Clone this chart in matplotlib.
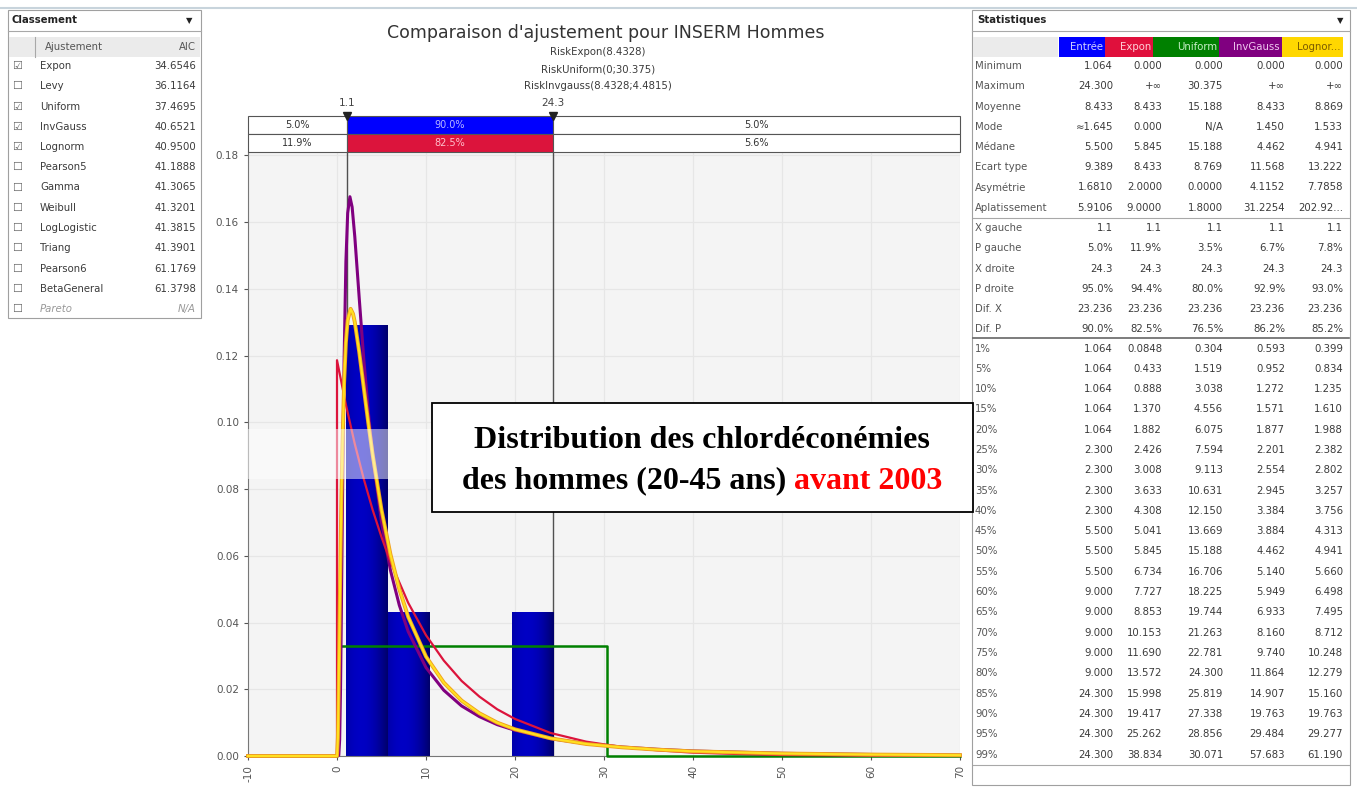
import matplotlib
matplotlib.use("Agg")
import matplotlib.pyplot as plt
import numpy as np
from matplotlib.patches import Rectangle
from matplotlib.colors import LinearSegmentedColormap

W, H = 1357, 787

# ---- left panel : classement ----
fit_names = ["Expon", "Levy", "Uniform", "InvGauss", "Lognorm", "Pearson5", "Gamma",
             "Weibull", "LogLogistic", "Triang", "Pearson6", "BetaGeneral", "Pareto"]
fit_aic = ["34.6546", "36.1164", "37.4695", "40.6521", "40.9500", "41.1888", "41.3065",
           "41.3201", "41.3815", "41.3901", "61.1769", "61.3798", "N/A"]
fit_checked = [True, False, True, True, True, False, False,
               False, False, False, False, False, False]

# ---- histogram of the input data (density) ----
hist_edges = [1.064, 5.711, 10.358, 15.006, 19.653, 24.300]
hist_density = [0.129, 0.043, 0.0, 0.0, 0.043]

# ---- fitted curves, values ----
expon_x = [-10, 0, 0, 1, 2, 3, 4, 5, 6, 8, 10, 12, 14, 16, 18, 20, 24, 28, 32, 36, 40, 45, 50, 60, 70]
expon_y = [0, 0, 0.1186, 0.1053, 0.0935, 0.0831, 0.0738, 0.0656, 0.0582, 0.0459, 0.0362, 0.0286,
           0.0225, 0.0178, 0.0140, 0.0111, 0.0069, 0.0043, 0.0027, 0.0017, 0.0010, 0.0006, 0.0003,
           0.0001, 0.0]

uniform_x = [-10, 0, 0, 30.375, 30.375, 70]
uniform_y = [0, 0, 0.0329, 0.0329, 0, 0]

invgauss_x = [-10, 0, 0.2, 0.3, 0.4, 0.5, 0.6, 0.8, 1.0, 1.2, 1.45, 1.7, 2.0, 2.5, 3, 3.5, 4, 5, 6,
              7, 8, 10, 12, 14, 16, 18, 20, 24, 28, 32, 36, 40, 50, 60, 70]
invgauss_y = [0, 0, 0.0002, 0.0049, 0.0207, 0.0453, 0.0725, 0.1190, 0.1481, 0.1627, 0.1676,
              0.1645, 0.1556, 0.1371, 0.1192, 0.1036, 0.0904, 0.0701, 0.0557, 0.0452, 0.0373,
              0.0265, 0.0197, 0.0150, 0.0118, 0.0094, 0.0077, 0.0052, 0.0037, 0.0027, 0.0020,
              0.0015, 0.0008, 0.00045, 0.00026]

lognorm_x = [-10, 0, 0.1, 0.2, 0.3, 0.4, 0.5, 0.6, 0.8, 1.0, 1.2, 1.53, 1.8, 2.0, 2.5, 3, 3.5, 4,
             5, 6, 7, 8, 10, 12, 14, 16, 18, 20, 24, 28, 32, 36, 40, 50, 60, 70]
lognorm_y = [0, 0, 0.0055, 0.0228, 0.0430, 0.0620, 0.0784, 0.0920, 0.1118, 0.1239, 0.1306,
             0.1340, 0.1325, 0.1300, 0.1210, 0.1105, 0.1001, 0.0904, 0.0738, 0.0605, 0.0500,
             0.0417, 0.0298, 0.0220, 0.0166, 0.0128, 0.0100, 0.0080, 0.0053, 0.0036, 0.0026,
             0.0019, 0.0014, 0.00075, 0.00043, 0.00026]

# ---- delimiters ----
x_left, x_right = 1.1, 24.3
band_top = ["5.0%", "90.0%", "5.0%"]
band_bottom = ["11.9%", "82.5%", "5.6%"]

# ---- right panel : statistiques ----
stat_cols = ["Entrée", "Expon", "Uniform", "InvGauss", "Lognor..."]
stat_rows = ["Minimum", "Maximum", "Moyenne", "Mode", "Médane", "Ecart type", "Asymétrie",
             "Aplatissement", "X gauche", "P gauche", "X droite", "P droite", "Dif. X", "Dif. P"]
pct_rows = ["1%", "5%", "10%", "15%", "20%", "25%", "30%", "35%", "40%", "45%", "50%", "55%",
            "60%", "65%", "70%", "75%", "80%", "85%", "90%", "95%", "99%"]
entree_vals = ["1.064", "24.300", "8.433", "≈1.645", "5.500", "9.389", "1.6810", "5.9106", "1.1",
               "5.0%", "24.3", "95.0%", "23.236", "90.0%",
               "1.064", "1.064", "1.064", "1.064", "1.064", "2.300", "2.300", "2.300", "2.300",
               "5.500", "5.500", "5.500", "9.000", "9.000", "9.000", "9.000", "9.000", "24.300",
               "24.300", "24.300", "24.300"]
expon_vals = ["0.000", "+∞", "8.433", "0.000", "5.845", "8.433", "2.0000", "9.0000", "1.1",
              "11.9%", "24.3", "94.4%", "23.236", "82.5%",
              "0.0848", "0.433", "0.888", "1.370", "1.882", "2.426", "3.008", "3.633", "4.308",
              "5.041", "5.845", "6.734", "7.727", "8.853", "10.153", "11.690", "13.572", "15.998",
              "19.417", "25.262", "38.834"]
uniform_vals = ["0.000", "30.375", "15.188", "N/A", "15.188", "8.769", "0.0000", "1.8000", "1.1",
                "3.5%", "24.3", "80.0%", "23.236", "76.5%",
                "0.304", "1.519", "3.038", "4.556", "6.075", "7.594", "9.113", "10.631", "12.150",
                "13.669", "15.188", "16.706", "18.225", "19.744", "21.263", "22.781", "24.300",
                "25.819", "27.338", "28.856", "30.071"]
invgauss_vals = ["0.000", "+∞", "8.433", "1.450", "4.462", "11.568", "4.1152", "31.2254", "1.1",
                 "6.7%", "24.3", "92.9%", "23.236", "86.2%",
                 "0.593", "0.952", "1.272", "1.571", "1.877", "2.201", "2.554", "2.945", "3.384",
                 "3.884", "4.462", "5.140", "5.949", "6.933", "8.160", "9.740", "11.864", "14.907",
                 "19.763", "29.484", "57.683"]
lognorm_vals = ["0.000", "+∞", "8.869", "1.533", "4.941", "13.222", "7.7858", "202.92...", "1.1",
                "7.8%", "24.3", "93.0%", "23.236", "85.2%",
                "0.399", "0.834", "1.235", "1.610", "1.988", "2.382", "2.802", "3.257", "3.756",
                "4.313", "4.941", "5.660", "6.498", "7.495", "8.712", "10.248", "12.279", "15.160",
                "19.763", "29.277", "61.190"]

col_face = ["#0000FF", "#E0103C", "#008000", "#800080", "#FFD700"]
col_text = ["#D0D0FF", "#FFD0D8", "#C8F0C8", "#F0C8F0", "#7A5A00"]

fig = plt.figure(figsize=(W / 100, H / 100), dpi=100)
fig.patch.set_facecolor("white")


def fx(x):
    return x / W


def fy(y):
    return 1 - y / H


def ftext(x, y, s, **kw):
    kw.setdefault("fontsize", 7.3)
    kw.setdefault("color", "#3a3a3a")
    kw.setdefault("va", "center")
    return fig.text(fx(x), fy(y), s, **kw)


def frect(x0, y0, x1, y1, **kw):
    fig.add_artist(Rectangle((fx(x0), fy(y1)), fx(x1) - fx(x0), fy(y0) - fy(y1),
                             transform=fig.transFigure, **kw))


def fline(x0, y0, x1, y1, **kw):
    kw.setdefault("color", "#a8a8a8")
    kw.setdefault("lw", 0.8)
    fig.add_artist(plt.Line2D([fx(x0), fx(x1)], [fy(y0), fy(y1)], transform=fig.transFigure, **kw))


fline(0, 8, W, 8, color="#c8d4dc", lw=1.5)

# ---------------- left panel ----------------
frect(8, 10, 201, 318, facecolor="white", edgecolor="#a0a0a0", lw=0.8)
ftext(12, 20, "Classement", fontweight="bold", color="#222")
ftext(189, 21, "▼", fontsize=6, ha="center", color="#222")
fline(8, 31, 201, 31)
frect(9, 37, 200, 57, facecolor="#ebebeb", edgecolor="none")
fline(35, 37, 35, 57)
ftext(45, 47, "Ajustement", color="#555")
ftext(196, 47, "AIC", ha="right", color="#555")
for i, (name, aic, chk) in enumerate(zip(fit_names, fit_aic, fit_checked)):
    y = 66 + i * 20.25
    ftext(17, y, "☑" if chk else "☐", fontsize=8, ha="center", color="#666")
    style = "italic" if aic == "N/A" else "normal"
    col = "#999" if aic == "N/A" else "#3a3a3a"
    ftext(40, y, name, style=style, color=col)
    ftext(196, y, aic, ha="right", style=style, color=col)

# ---------------- title ----------------
ftext(606, 33, "Comparaison d'ajustement pour INSERM Hommes", fontsize=12.5, ha="center", color="#333")
ftext(598, 52, "RiskExpon(8.4328)", ha="center")
ftext(598, 69, "RiskUniform(0;30.375)", ha="center")
ftext(598, 86, "RiskInvgauss(8.4328;4.4815)", ha="center")

# ---------------- main chart ----------------
ax = fig.add_axes([fx(248), fy(756), fx(960) - fx(248), fy(152) - fy(756)])
ax.set_facecolor("#f4f4f4")
ax.grid(True, color="#e6e6e6", lw=0.9)
ax.set_axisbelow(True)

bar_cmap = LinearSegmentedColormap.from_list("bar", ["#00004c", "#000088", "#0000c4"])
t = np.linspace(0, 1, 80)
shade = np.clip(1 - ((t - 0.35) / 0.75) ** 2, 0, 1)[None, :]
for k in range(len(hist_density)):
    if hist_density[k] > 0:
        ax.imshow(shade, extent=[hist_edges[k], hist_edges[k + 1], 0, hist_density[k]],
                  aspect="auto", cmap=bar_cmap, vmin=0, vmax=1, zorder=2, interpolation="bilinear")

ax.axvline(x_left, color="#505050", lw=1, zorder=1.5)
ax.axvline(x_right, color="#505050", lw=1, zorder=1.5)

ax.plot(uniform_x, uniform_y, color="#008000", lw=1.8, zorder=3, clip_on=False)
ax.plot(invgauss_x, invgauss_y, color="#800080", lw=2.2, zorder=4, clip_on=False)
ax.plot(expon_x, expon_y, color="#DC143C", lw=1.6, zorder=5, clip_on=False)
ax.plot(lognorm_x, lognorm_y, color="#F0A020", lw=2.8, zorder=6, clip_on=False)
ax.plot(lognorm_x, lognorm_y, color="#FFE020", lw=1.5, zorder=6.5, clip_on=False)

# whitish highlight band visible on the screenshot
ax.add_patch(Rectangle((-10, 0.083), 20.7, 0.015, facecolor="white", edgecolor="none",
                       alpha=0.5, zorder=7))

ax.set_xlim(-10, 70)
ax.set_ylim(0, 0.181)
ax.set_xticks(np.arange(-10, 71, 10))
ax.set_xticklabels([str(v) for v in range(-10, 71, 10)], rotation=90)
ax.set_yticks(np.arange(0, 0.181, 0.02))
ax.set_yticklabels(["%.2f" % v for v in np.arange(0, 0.181, 0.02)])
ax.tick_params(labelsize=7.5, colors="#555", length=3)
for s in ["top", "right"]:
    ax.spines[s].set_visible(False)
for s in ["left", "bottom"]:
    ax.spines[s].set_color("#777")

# ---------------- delimiter band ----------------
bx = fig.add_axes([fx(248), fy(152), fx(960) - fx(248), fy(116) - fy(152)])
bx.set_xlim(-10, 70)
bx.set_ylim(0, 2)
bx.axis("off")
segments = [(-10, x_left), (x_left, x_right), (x_right, 70)]
rows = [(band_top, "#0000FF", "#B8B8FF"), (band_bottom, "#DC143C", "#FFC0CC")]
for r, (labels, mid_face, mid_txt) in enumerate(rows):
    y0 = 1 - r
    for k, (a, b) in enumerate(segments):
        bx.add_patch(Rectangle((a, y0), b - a, 1, facecolor=mid_face if k == 1 else "white",
                               edgecolor="#555", lw=0.8, clip_on=False))
        bx.text((a + b) / 2, y0 + 0.5, labels[k], ha="center", va="center", fontsize=7,
                color=mid_txt if k == 1 else "#333")
bx.plot([x_left, x_right], [2, 2], "v", color="#222", ms=6, clip_on=False)
for xv in (x_left, x_right):
    bx.text(xv, 2.72, str(xv), ha="center", va="center", fontsize=7.5, color="#444")

# ---------------- right panel ----------------
frect(972, 10, 1350, 785, facecolor="white", edgecolor="#a0a0a0", lw=0.8)
ftext(977, 20, "Statistiques", fontweight="bold", color="#222")
ftext(1340, 21, "▼", fontsize=6, ha="center", color="#222")
fline(972, 31, 1350, 31)

grad_ax = fig.add_axes([fx(973), fy(765), fx(1060) - fx(973), fy(57) - fy(765)])
grad_ax.imshow(np.linspace(0, 1, 50)[None, :], aspect="auto",
               cmap=LinearSegmentedColormap.from_list("lab", ["#fffff6", "#ffffd6"]))
grad_ax.axis("off")

frect(973, 37, 1058, 57, facecolor="#ebebeb", edgecolor="none")
cell_edges = [1059, 1105, 1153, 1219, 1282, 1343]
val_right = [1113, 1162, 1223, 1285, 1343]
for c, name in enumerate(stat_cols):
    frect(cell_edges[c], 37, cell_edges[c + 1], 57, facecolor=col_face[c], edgecolor="none")
    ftext(cell_edges[c + 1] - 2, 47, name, ha="right", color=col_text[c])

columns = [entree_vals, expon_vals, uniform_vals, invgauss_vals, lognorm_vals]
labels_all = stat_rows + pct_rows
for i, lab in enumerate(labels_all):
    y = 66 + i * 20.25 if i < len(stat_rows) else 348.5 + (i - len(stat_rows)) * 20.3
    ftext(975, y, lab, color="#555")
    for c, vals in enumerate(columns):
        ftext(val_right[c], y, vals[i], ha="right")
fline(973, 218, 1349, 218)
fline(973, 338, 1349, 338, color="#666", lw=1.2)
fline(973, 765, 1349, 765)

# ---------------- annotation box ----------------
frect(432, 403, 973, 512, facecolor="white", edgecolor="black", lw=1.3)
box_fs = 23
serif = ["Liberation Serif", "DejaVu Serif"]
ftext(702, 440, "Distribution des chlordéconémies", fontsize=box_fs, fontweight="bold",
      family=serif, ha="center", color="black")
ta = ftext(0, 481, "des hommes (20-45 ans)", fontsize=box_fs, fontweight="bold",
           family=serif, color="black")
tb = ftext(0, 481, "avant 2003", fontsize=box_fs, fontweight="bold", family=serif, color="#FF0000")
rend = fig.canvas.get_renderer()
wa = ta.get_window_extent(rend).width
wb = tb.get_window_extent(rend).width
gap = box_fs * 100 / 72 * 0.25
x0 = 702 - (wa + gap + wb) / 2
ta.set_position((fx(x0), fy(481)))
tb.set_position((fx(x0 + wa + gap), fy(481)))

fig.savefig("out.png", dpi=100)
